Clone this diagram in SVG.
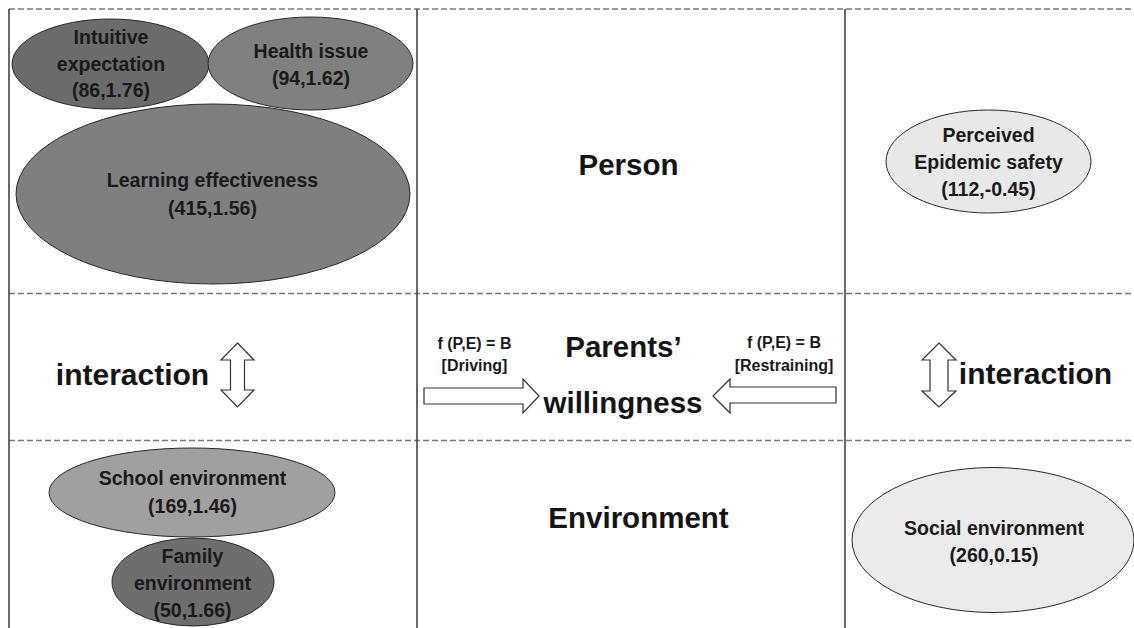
<svg xmlns="http://www.w3.org/2000/svg" width="1134" height="628" viewBox="0 0 1134 628">
<style>
.dash{stroke:#7a7a7a;stroke-width:1.4;stroke-dasharray:6,3;fill:none}
.vline{stroke:#444;stroke-width:1.6;fill:none}
.ell{stroke:#2a2a2a;stroke-width:1}
.lbl{font-family:"Liberation Sans",Arial,sans-serif;font-weight:bold;font-size:19.5px;fill:#1a1a1a;text-anchor:middle}
.big{font-family:"Liberation Sans",Arial,sans-serif;font-weight:bold;font-size:29.5px;fill:#141414;text-anchor:middle}
.fn{font-family:"Liberation Sans",Arial,sans-serif;font-weight:bold;font-size:16px;fill:#1a1a1a;text-anchor:middle}
.arr{fill:#fff;stroke:#333;stroke-width:1.2}
</style>
<rect width="1134" height="628" fill="#fff"/>
<g id="grid">
<line class="dash" x1="9" y1="9" x2="1134" y2="9"/>
<line class="dash" x1="9" y1="293.5" x2="1134" y2="293.5"/>
<line class="dash" x1="9" y1="440.5" x2="1134" y2="440.5"/>
<line class="vline" x1="9" y1="9" x2="9" y2="628"/>
<line class="vline" x1="417" y1="9" x2="417" y2="628"/>
<line class="vline" x1="845" y1="9" x2="845" y2="628"/>
</g>
<g id="intuitive">
<ellipse class="ell" cx="110.5" cy="64" rx="98.5" ry="45" fill="#6b6b6b"/>
<text class="lbl" x="111" y="44">Intuitive</text>
<text class="lbl" x="111" y="70.5">expectation</text>
<text class="lbl" x="111" y="97">(86,1.76)</text>
</g>
<g id="health">
<ellipse class="ell" cx="310.5" cy="63.5" rx="102.5" ry="46.5" fill="#808080"/>
<text class="lbl" x="311" y="58">Health issue</text>
<text class="lbl" x="311" y="85">(94,1.62)</text>
</g>
<g id="learning">
<ellipse class="ell" cx="213" cy="194" rx="197" ry="90" fill="#7f7f7f"/>
<text class="lbl" x="212.5" y="187">Learning effectiveness</text>
<text class="lbl" x="212.5" y="215">(415,1.56)</text>
</g>
<g id="perceived">
<ellipse class="ell" cx="988.5" cy="161.5" rx="102.5" ry="51.5" fill="#e8e8e8"/>
<text class="lbl" x="988.5" y="142">Perceived</text>
<text class="lbl" x="988.5" y="169">Epidemic safety</text>
<text class="lbl" x="988.5" y="196">(112,-0.45)</text>
</g>
<g id="school">
<ellipse class="ell" cx="192" cy="492.5" rx="143" ry="44.5" fill="#a0a0a0"/>
<text class="lbl" x="192.5" y="485">School environment</text>
<text class="lbl" x="192.5" y="513">(169,1.46)</text>
</g>
<g id="family">
<ellipse class="ell" cx="193" cy="582" rx="81" ry="44" fill="#6e6e6e"/>
<text class="lbl" x="192.5" y="563">Family</text>
<text class="lbl" x="192.5" y="590">environment</text>
<text class="lbl" x="192.5" y="617">(50,1.66)</text>
</g>
<g id="social">
<ellipse class="ell" cx="993" cy="540" rx="141" ry="72.5" fill="#ebebeb"/>
<text class="lbl" x="994" y="535">Social environment</text>
<text class="lbl" x="994" y="562">(260,0.15)</text>
</g>
<g id="person"><text class="big" x="628.5" y="175">Person</text></g>
<g id="willingness">
<text class="big" x="623.5" y="357">Parents’</text>
<text class="big" x="623" y="413">willingness</text>
</g>
<g id="environment"><text class="big" x="638.5" y="528">Environment</text></g>
<g id="interaction-left"><text class="big" x="132.5" y="385" style="font-size:30px">interaction</text></g>
<g id="interaction-right"><text class="big" x="1035.5" y="384" style="font-size:30px">interaction</text></g>
<g id="driving-label">
<text class="fn" x="474.5" y="349">f (P,E) = B</text>
<text class="fn" x="474.5" y="371">[Driving]</text>
</g>
<g id="restraining-label">
<text class="fn" x="784" y="348">f (P,E) = B</text>
<text class="fn" x="784" y="371">[Restraining]</text>
</g>
<g id="connectors">
<polygon class="arr" points="237.5,343 254,360 244.5,360 244.5,390 254,390 237.5,407 221,390 230.5,390 230.5,360 221,360"/>
<polygon class="arr" points="939,343 956,360 948,360 948,391 956,391 939,407 922,391 930,391 930,360 922,360"/>
<polygon class="arr" points="424,388 523,388 523,379 539,396 523,413 523,404 424,404"/>
<polygon class="arr" points="836,387 730,387 730,379 713,396 730,413 730,403 836,403"/>
</g>
</svg>
